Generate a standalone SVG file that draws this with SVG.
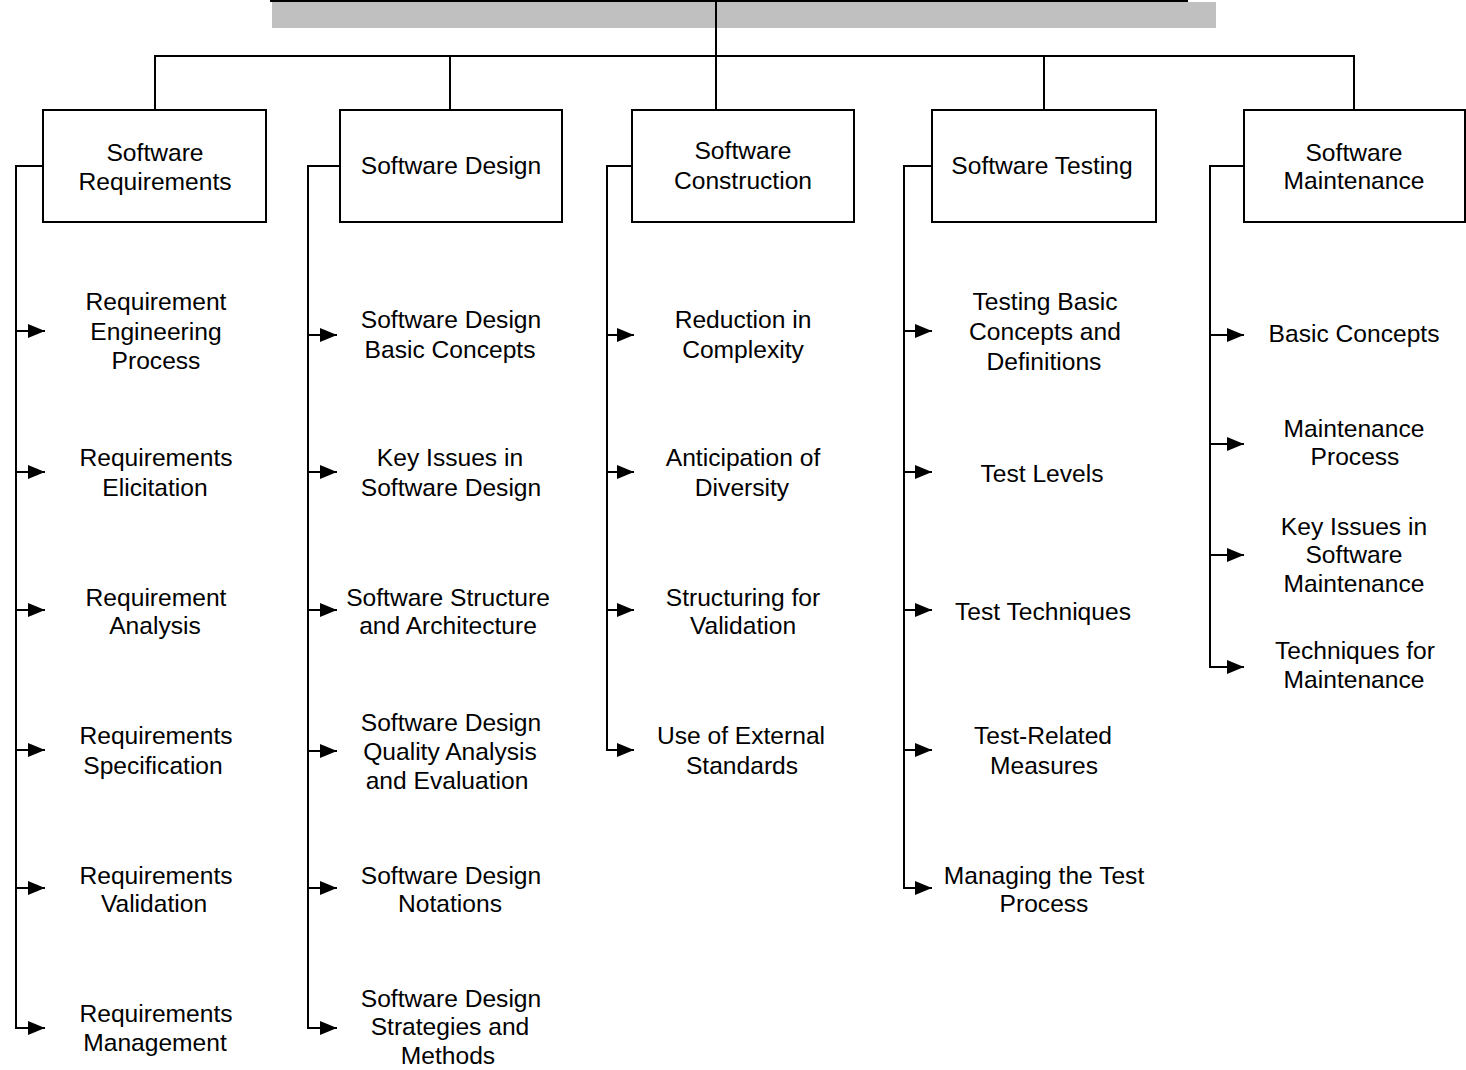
<svg xmlns="http://www.w3.org/2000/svg" width="1466" height="1070" viewBox="0 0 1466 1070">
  <style>
    .box { fill: #ffffff; stroke: #000000; stroke-width: 2; }
    .wire { fill: none; stroke: #000000; stroke-width: 2; }
    .lbl { font-family: "Liberation Sans", Arial, sans-serif; font-size: 24.6px; fill: #000000; text-anchor: middle; }
  </style>
  <defs>
    <marker id="arrow" markerWidth="17" markerHeight="14" refX="17" refY="7" orient="auto" markerUnits="userSpaceOnUse">
      <path d="M0,0 L17,7 L0,14 Z" fill="#000000"/>
    </marker>
  </defs>
  <rect width="1466" height="1070" fill="#ffffff"/>

  <!-- top banner -->
  <g id="banner">
    <rect x="272" y="2" width="944" height="26" fill="#c0c0c0"/>
    <line x1="270" y1="1" x2="1188" y2="1" stroke="#000000" stroke-width="2"/>
  </g>

  <!-- connectors -->
  <g id="connectors">
    <!-- trunk and distribution bar -->
    <line class="wire" x1="716" y1="0" x2="716" y2="110"/>
    <polyline class="wire" points="155,110 155,56 1354,56 1354,110"/>
    <line class="wire" x1="450" y1="56" x2="450" y2="110"/>
    <line class="wire" x1="1044" y1="56" x2="1044" y2="110"/>

    <!-- Software Requirements branch -->
    <polyline class="wire" points="43,166 16,166 16,1028 45,1028" marker-end="url(#arrow)"/>
    <line class="wire" x1="16" y1="331" x2="45" y2="331" marker-end="url(#arrow)"/>
    <line class="wire" x1="16" y1="472" x2="45" y2="472" marker-end="url(#arrow)"/>
    <line class="wire" x1="16" y1="610" x2="45" y2="610" marker-end="url(#arrow)"/>
    <line class="wire" x1="16" y1="750" x2="45" y2="750" marker-end="url(#arrow)"/>
    <line class="wire" x1="16" y1="888" x2="45" y2="888" marker-end="url(#arrow)"/>

    <!-- Software Design branch -->
    <polyline class="wire" points="340,166 308,166 308,1028 337,1028" marker-end="url(#arrow)"/>
    <line class="wire" x1="308" y1="335" x2="337" y2="335" marker-end="url(#arrow)"/>
    <line class="wire" x1="308" y1="472" x2="337" y2="472" marker-end="url(#arrow)"/>
    <line class="wire" x1="308" y1="610" x2="337" y2="610" marker-end="url(#arrow)"/>
    <line class="wire" x1="308" y1="751" x2="337" y2="751" marker-end="url(#arrow)"/>
    <line class="wire" x1="308" y1="888" x2="337" y2="888" marker-end="url(#arrow)"/>

    <!-- Software Construction branch -->
    <polyline class="wire" points="632,166 607,166 607,750 634,750" marker-end="url(#arrow)"/>
    <line class="wire" x1="607" y1="335" x2="634" y2="335" marker-end="url(#arrow)"/>
    <line class="wire" x1="607" y1="472" x2="634" y2="472" marker-end="url(#arrow)"/>
    <line class="wire" x1="607" y1="610" x2="634" y2="610" marker-end="url(#arrow)"/>

    <!-- Software Testing branch -->
    <polyline class="wire" points="932,166 904,166 904,888 932,888" marker-end="url(#arrow)"/>
    <line class="wire" x1="904" y1="331" x2="932" y2="331" marker-end="url(#arrow)"/>
    <line class="wire" x1="904" y1="472" x2="932" y2="472" marker-end="url(#arrow)"/>
    <line class="wire" x1="904" y1="610" x2="932" y2="610" marker-end="url(#arrow)"/>
    <line class="wire" x1="904" y1="750" x2="932" y2="750" marker-end="url(#arrow)"/>

    <!-- Software Maintenance branch -->
    <polyline class="wire" points="1244,166 1210,166 1210,667 1244,667" marker-end="url(#arrow)"/>
    <line class="wire" x1="1210" y1="335" x2="1244" y2="335" marker-end="url(#arrow)"/>
    <line class="wire" x1="1210" y1="444" x2="1244" y2="444" marker-end="url(#arrow)"/>
    <line class="wire" x1="1210" y1="555" x2="1244" y2="555" marker-end="url(#arrow)"/>
  </g>

  <!-- top-level areas -->
  <g id="software-requirements">
    <rect class="box" x="43" y="110" width="223" height="112"/>
    <text class="lbl" x="155" y="161">Software</text>
    <text class="lbl" x="155" y="190">Requirements</text>
  </g>
  <g id="software-design">
    <rect class="box" x="340" y="110" width="222" height="112"/>
    <text class="lbl" x="451" y="174">Software Design</text>
  </g>
  <g id="software-construction">
    <rect class="box" x="632" y="110" width="222" height="112"/>
    <text class="lbl" x="743" y="159">Software</text>
    <text class="lbl" x="743" y="189">Construction</text>
  </g>
  <g id="software-testing">
    <rect class="box" x="932" y="110" width="224" height="112"/>
    <text class="lbl" x="1042" y="174">Software Testing</text>
  </g>
  <g id="software-maintenance">
    <rect class="box" x="1244" y="110" width="221" height="112"/>
    <text class="lbl" x="1354" y="161">Software</text>
    <text class="lbl" x="1354" y="189">Maintenance</text>
  </g>

  <!-- Software Requirements topics -->
  <g id="req-engineering-process">
    <text class="lbl" x="156" y="310">Requirement</text>
    <text class="lbl" x="156" y="340">Engineering</text>
    <text class="lbl" x="156" y="369">Process</text>
  </g>
  <g id="req-elicitation">
    <text class="lbl" x="156" y="466">Requirements</text>
    <text class="lbl" x="155" y="496">Elicitation</text>
  </g>
  <g id="req-analysis">
    <text class="lbl" x="156" y="606">Requirement</text>
    <text class="lbl" x="155" y="634">Analysis</text>
  </g>
  <g id="req-specification">
    <text class="lbl" x="156" y="744">Requirements</text>
    <text class="lbl" x="153" y="774">Specification</text>
  </g>
  <g id="req-validation">
    <text class="lbl" x="156" y="884">Requirements</text>
    <text class="lbl" x="154" y="912">Validation</text>
  </g>
  <g id="req-management">
    <text class="lbl" x="156" y="1022">Requirements</text>
    <text class="lbl" x="155" y="1051">Management</text>
  </g>

  <!-- Software Design topics -->
  <g id="design-basic-concepts">
    <text class="lbl" x="451" y="328">Software Design</text>
    <text class="lbl" x="450" y="358">Basic Concepts</text>
  </g>
  <g id="design-key-issues">
    <text class="lbl" x="450" y="466">Key Issues in</text>
    <text class="lbl" x="451" y="496">Software Design</text>
  </g>
  <g id="design-structure">
    <text class="lbl" x="448" y="606">Software Structure</text>
    <text class="lbl" x="448" y="634">and Architecture</text>
  </g>
  <g id="design-quality">
    <text class="lbl" x="451" y="731">Software Design</text>
    <text class="lbl" x="450" y="760">Quality Analysis</text>
    <text class="lbl" x="447" y="789">and Evaluation</text>
  </g>
  <g id="design-notations">
    <text class="lbl" x="451" y="884">Software Design</text>
    <text class="lbl" x="450" y="912">Notations</text>
  </g>
  <g id="design-strategies">
    <text class="lbl" x="451" y="1007">Software Design</text>
    <text class="lbl" x="450" y="1035">Strategies and</text>
    <text class="lbl" x="448" y="1064">Methods</text>
  </g>

  <!-- Software Construction topics -->
  <g id="construction-complexity">
    <text class="lbl" x="743" y="328">Reduction in</text>
    <text class="lbl" x="743" y="358">Complexity</text>
  </g>
  <g id="construction-diversity">
    <text class="lbl" x="743" y="466">Anticipation of</text>
    <text class="lbl" x="742" y="496">Diversity</text>
  </g>
  <g id="construction-validation">
    <text class="lbl" x="743" y="606">Structuring for</text>
    <text class="lbl" x="743" y="634">Validation</text>
  </g>
  <g id="construction-standards">
    <text class="lbl" x="741" y="744">Use of External</text>
    <text class="lbl" x="742" y="774">Standards</text>
  </g>

  <!-- Software Testing topics -->
  <g id="testing-basic-concepts">
    <text class="lbl" x="1045" y="310">Testing Basic</text>
    <text class="lbl" x="1045" y="340">Concepts and</text>
    <text class="lbl" x="1044" y="370">Definitions</text>
  </g>
  <g id="testing-levels">
    <text class="lbl" x="1042" y="482">Test Levels</text>
  </g>
  <g id="testing-techniques">
    <text class="lbl" x="1043" y="620">Test Techniques</text>
  </g>
  <g id="testing-measures">
    <text class="lbl" x="1043" y="744">Test-Related</text>
    <text class="lbl" x="1044" y="774">Measures</text>
  </g>
  <g id="testing-process">
    <text class="lbl" x="1044" y="884">Managing the Test</text>
    <text class="lbl" x="1044" y="912">Process</text>
  </g>

  <!-- Software Maintenance topics -->
  <g id="maint-basic-concepts">
    <text class="lbl" x="1354" y="342">Basic Concepts</text>
  </g>
  <g id="maint-process">
    <text class="lbl" x="1354" y="437">Maintenance</text>
    <text class="lbl" x="1355" y="465">Process</text>
  </g>
  <g id="maint-key-issues">
    <text class="lbl" x="1354" y="535">Key Issues in</text>
    <text class="lbl" x="1354" y="563">Software</text>
    <text class="lbl" x="1354" y="592">Maintenance</text>
  </g>
  <g id="maint-techniques">
    <text class="lbl" x="1355" y="659">Techniques for</text>
    <text class="lbl" x="1354" y="688">Maintenance</text>
  </g>
</svg>
